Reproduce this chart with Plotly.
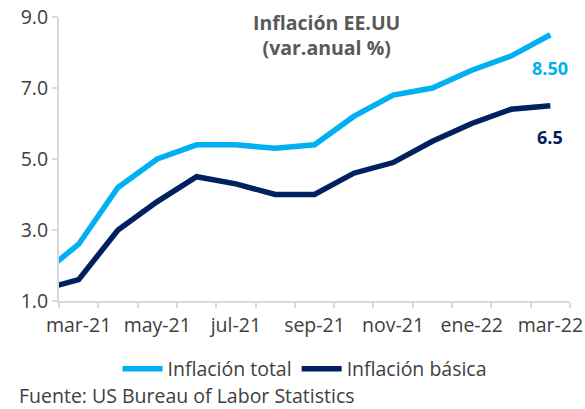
import plotly.graph_objects as go

months = ["feb-21", "mar-21", "abr-21", "may-21", "jun-21", "jul-21", "ago-21",
          "sep-21", "oct-21", "nov-21", "dic-21", "ene-22", "feb-22", "mar-22"]
total = [1.7, 2.6, 4.2, 5.0, 5.4, 5.4, 5.3, 5.4, 6.2, 6.8, 7.0, 7.5, 7.9, 8.5]
basica = [1.3, 1.6, 3.0, 3.8, 4.5, 4.3, 4.0, 4.0, 4.6, 4.9, 5.5, 6.0, 6.4, 6.5]
tick_labels = ["mar-21", "may-21", "jul-21", "sep-21", "nov-21", "ene-22", "mar-22"]
y_ticks = [1, 3, 5, 7, 9]

LIGHT = "#00B0F0"
NAVY = "#002060"
TXT = "#404040"
FONT = "Open Sans"
FS = 19.5

W, H = 585, 409
L, T, B, R = 59, 17, 108, 15
PW, PH = W - L - R, H - T - B

def px(x):  # screen x -> paper x
    return (x - L) / PW

def py(y):  # screen y -> paper y
    return (H - B - y) / PH

xs = list(range(-1, len(months) - 1))  # feb-21 sits just before the first category

fig = go.Figure()
fig.add_trace(go.Scatter(x=xs, y=total, mode="lines", name="Inflación total",
                         line=dict(color=LIGHT, width=5.5)))
fig.add_trace(go.Scatter(x=xs, y=basica, mode="lines", name="Inflación básica",
                         line=dict(color=NAVY, width=5.5)))

tickvals = [xs[months.index(t)] for t in tick_labels]

fig.update_layout(
    width=W, height=H,
    margin=dict(l=L, r=R, t=T, b=B),
    paper_bgcolor="white", plot_bgcolor="white",
    font=dict(family=FONT, size=FS, color=TXT),
    showlegend=True,
    legend=dict(orientation="h", x=px(305), xanchor="center", y=py(369), yanchor="middle",
                font=dict(size=FS, color=TXT), itemwidth=40, tracegroupgap=0),
    xaxis=dict(range=[-0.5, 12.5], tickmode="array", tickvals=tickvals, ticktext=tick_labels,
               ticks="", showgrid=False, zeroline=False, automargin=False,
               ticklabeloverflow="allow", ticklabelstandoff=6,
               showline=True, linecolor="#d9d9d9", linewidth=2,
               tickfont=dict(size=FS, color=TXT),
               minor=dict(tickmode="linear", tick0=-0.5, dtick=1, ticks="outside",
                          ticklen=5, tickcolor="#d9d9d9", tickwidth=2, showgrid=False)),
    yaxis=dict(range=[1, 9], tickvals=y_ticks, ticktext=[f"{v:.1f}" for v in y_ticks],
               ticks="outside", ticklen=5, tickcolor="#d9d9d9", tickwidth=2,
               showgrid=False, zeroline=False, automargin=False,
               ticklabeloverflow="allow",
               showline=True, linecolor="#d9d9d9", linewidth=2,
               tickfont=dict(size=FS, color=TXT)),
)

fig.add_annotation(xref="paper", yref="paper", x=px(326), y=py(35), yanchor="middle",
                   text="<b>Inflación EE.UU<br>(var.anual %)</b>", showarrow=False,
                   font=dict(size=FS, color="#595959", family=FONT), align="center")
fig.add_annotation(x=xs[-1], y=total[-1], text="<b>8.50</b>", showarrow=False,
                   yshift=-33, xshift=0, font=dict(size=18, color=LIGHT, family=FONT))
fig.add_annotation(x=xs[-1], y=basica[-1], text="<b>6.5</b>", showarrow=False,
                   yshift=-31, xshift=0, font=dict(size=18, color=NAVY, family=FONT))
fig.add_annotation(xref="paper", yref="paper", x=px(17), xanchor="left",
                   y=py(395), yanchor="middle",
                   text="Fuente: US Bureau of Labor Statistics", showarrow=False,
                   font=dict(size=FS, color=TXT, family=FONT))

fig.write_html("out.html", config={"displayModeBar": False},
               post_script="document.body.style.margin='0';document.body.style.overflow='hidden';")
